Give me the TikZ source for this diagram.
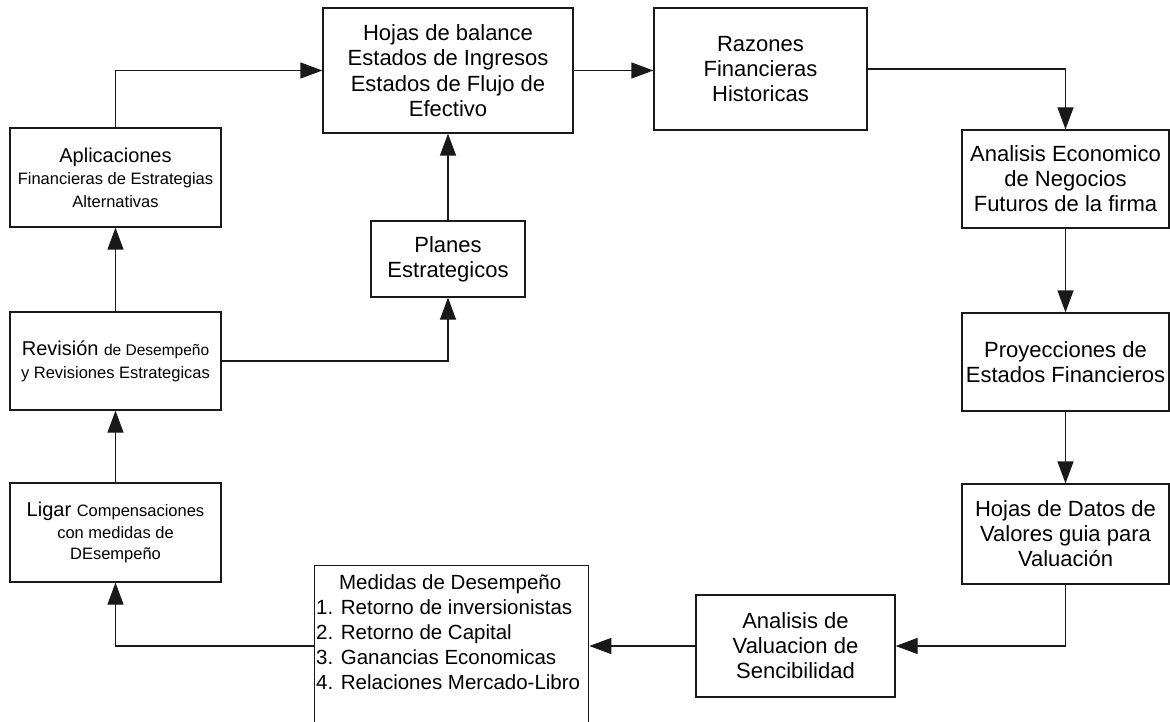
\documentclass[tikz,border=0pt]{standalone}
\usepackage{fontspec}
\setmainfont{Liberation Sans}
\usetikzlibrary{arrows.meta}
\newcommand\bigf{\fontsize{22}{25}\selectfont}
\newcommand\midf{\fontsize{20}{24.5}\selectfont}
\newcommand\smf{\fontsize{16.5}{21}\selectfont}
\newcommand\smmf{\fontsize{15.5}{21}\selectfont}
\tikzset{
  box/.style={draw=black!90, line width=1.3pt, rectangle, align=center, inner sep=1pt, font=\bigf},
  conn/.style={draw=black!90, line width=1.3pt, -{Triangle[length=22pt,width=16pt]}},
  plain/.style={draw=black!90, line width=1.3pt}
}
\begin{document}
\begin{tikzpicture}[x=1pt,y=-1pt]
\useasboundingbox (0,0) rectangle (1170,722);
\clip (0,0) rectangle (1170,722);
\fill[white] (0,0) rectangle (1170,722);

\node[box, minimum width=250, minimum height=125, font=\fontsize{22}{25.5}\selectfont] (H) at (448,70.5)
  {Hojas de balance\\Estados de Ingresos\\Estados de Flujo de\\Efectivo};
\node[box, minimum width=213, minimum height=122] (R) at (760.5,69)
  {Razones\\Financieras\\Historicas};
\node[box, minimum width=207, minimum height=98] (AE) at (1065.5,179)
  {Analisis Economico\\de Negocios\\Futuros de la firma};
\node[box, minimum width=207, minimum height=98] (P) at (1065.5,362)
  {Proyecciones de\\Estados Financieros};
\node[box, minimum width=207, minimum height=100] (HD) at (1065.5,534)
  {Hojas de Datos de\\Valores guia para\\Valuación};
\node[box, minimum width=199, minimum height=102] (AV) at (795.5,646)
  {Analisis de\\Valuacion de\\Sencibilidad};
\node[box, anchor=north west, minimum width=274, minimum height=180] (M) at (314,565) {};
\node[anchor=north west, align=left, inner sep=0pt, font=\fontsize{20.5}{25}\selectfont] (Mt) at (316,574)
  {\makebox[268pt][c]{Medidas de Desempeño}\\
   1. Retorno de inversionistas\\
   2. Retorno de Capital\\
   3. Ganancias Economicas\\
   4. Relaciones Mercado-Libro};
\node[box, minimum width=211, minimum height=99, font=\fontsize{20}{21.5}\selectfont] (L) at (115.5,532.5)
  {Ligar {\smf Compensaciones}\\{\smf con medidas de}\\{\smf DEsempeño}};
\node[box, minimum width=211, minimum height=98, font=\fontsize{20}{23}\selectfont] (Rv) at (115.5,361)
  {Revisión {\smmf de Desempeño}\\{\smf y Revisiones Estrategicas}};
\node[box, minimum width=211, minimum height=99, font=\fontsize{20}{22.5}\selectfont] (A) at (115.5,177.5)
  {Aplicaciones\\{\smf Financieras de Estrategias}\\{\smf Alternativas}};
\node[box, minimum width=154, minimum height=76] (Pl) at (448,259)
  {Planes\\Estrategicos};

\draw[conn] (A.north) |- (H.west);
\draw[conn] (H.east) -- (H.east -| R.west);
\draw[conn] (R.east) -| (AE.north);
\draw[conn] (AE.south) -- (P.north);
\draw[conn] (P.south) -- (HD.north);
\draw[conn] (HD.south) |- (AV.east);
\draw[conn] (AV.west) -- (AV.west -| M.east);
\draw[conn] (AV.west -| M.west) -| (L.south);
\draw[conn] (L.north) -- (Rv.south);
\draw[conn] (Rv.north) -- (A.south);
\draw[conn] (Rv.east) -| (Pl.south);
\draw[conn] (Pl.north) -- (H.south);
\end{tikzpicture}
\end{document}
